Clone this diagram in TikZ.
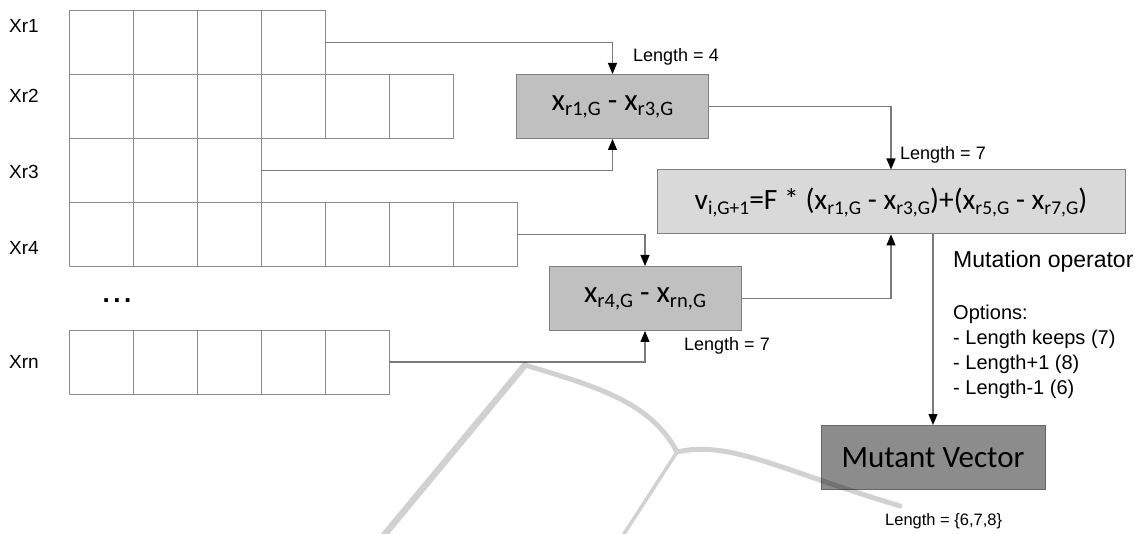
\documentclass[tikz,border=0pt]{standalone}
\usepackage{fontspec}
\setmainfont{Liberation Sans}
\newfontfamily\calfont{Carlito}
\usetikzlibrary{arrows.meta,calc}
\definecolor{gridc}{HTML}{8A8A8A}
\definecolor{linec}{HTML}{7A7A7A}
\definecolor{boxa}{HTML}{C0C0C0}
\definecolor{boxf}{HTML}{D9D9D9}
\definecolor{boxm}{HTML}{8C8C8C}
\definecolor{edgec}{HTML}{7F7F7F}
\newcommand\sbx[1]{\raisebox{-5pt}{\fontsize{20.5}{20.5}\selectfont #1}}
\newcommand\sbf[1]{\raisebox{-5pt}{\fontsize{19.5}{19.5}\selectfont #1}}
\tikzset{
  rowbox/.style={draw=gridc, line width=0.9pt, minimum height=64pt, inner sep=0pt, outer sep=0pt, anchor=north west},
  gridl/.style={draw=gridc, line width=0.9pt},
  conn/.style={draw=linec, line width=1.1pt, -{Triangle[length=11pt,width=9pt,color=black]}},
  diffbox/.style={draw=edgec, line width=1pt, fill=boxa, minimum width=192pt, minimum height=64pt, inner sep=0pt, font=\calfont\fontsize{31}{31}\selectfont},
  formbox/.style={draw=edgec, line width=1pt, fill=boxf, minimum width=468pt, minimum height=64pt, inner sep=0pt, font=\calfont\fontsize{29.5}{29.5}\selectfont},
  mutbox/.style={draw=edgec!80!black, line width=1pt, fill=boxm, minimum width=224pt, minimum height=64pt, inner sep=0pt, font=\calfont\fontsize{31}{31}\selectfont},
  xlab/.style={anchor=west, inner sep=0pt, font=\fontsize{19}{19}\selectfont},
  lenlab/.style={anchor=west, inner sep=0pt, font=\fontsize{18}{18}\selectfont},
  wm/.style={draw=black, line cap=round, line join=round},
}
\begin{document}
\begin{tikzpicture}[x=1pt,y=-1pt]
\useasboundingbox (0,0) rectangle (1135,534);
% vector rows
\node[rowbox, minimum width=256pt] (r1) at (69,10.5) {};
\node[rowbox, minimum width=384pt] (r2) at (69,74.5) {};
\node[rowbox, minimum width=192pt] (r3) at (69,138.5) {};
\node[rowbox, minimum width=448pt] (r4) at (69,202.5) {};
\node[rowbox, minimum width=320pt] (rn) at (69,330) {};
\foreach \i in {1,2,3} {\draw[gridl] (r1.north west) ++(64*\i,0) -- ++(0,64);}
\foreach \i in {1,...,5} {\draw[gridl] (r2.north west) ++(64*\i,0) -- ++(0,64);}
\foreach \i in {1,2} {\draw[gridl] (r3.north west) ++(64*\i,0) -- ++(0,64);}
\foreach \i in {1,...,6} {\draw[gridl] (r4.north west) ++(64*\i,0) -- ++(0,64);}
\foreach \i in {1,...,4} {\draw[gridl] (rn.north west) ++(64*\i,0) -- ++(0,64);}
% row labels
\node[xlab] (l1) at (9,25.7) {Xr1};
\node[xlab] (l2) at (9,96) {Xr2};
\node[xlab] (l3) at (9,172) {Xr3};
\node[xlab] (l4) at (9,248) {Xr4};
\node[xlab] (ln) at (9,362) {Xrn};
\node[inner sep=0pt, font=\bfseries\fontsize{26}{26}\selectfont] (dots) at (117,301) {.\kern3.5pt.\kern3.5pt.};
% boxes
\node[diffbox] (b1) at (612.5,106.5) {x\sbx{r1,G} - x\sbx{r3,G}};
\node[diffbox] (b2) at (645,298.5) {x\sbx{r4,G} - x\sbx{rn,G}};
\node[formbox] (f) at (891,202) {v\sbf{i,G+1}=F * (x\sbf{r1,G} - x\sbf{r3,G})+(x\sbf{r5,G} - x\sbf{r7,G})};
\node[mutbox] (m) at (933,457.5) {Mutant Vector};
% connectors
\draw[conn] (r1.east) -| (b1.north);
\draw[conn] (r3.east) -| (b1.south);
\draw[conn] (r4.east) -| (b2.north);
\draw[conn] (rn.east) -| (b2.south);
\draw[conn] (b1.east) -| (f.north);
\draw[conn] (b2.east) -| (f.south);
\draw[conn] (f.south -| m.north) -- (m.north);
% labels
\node[lenlab] (len4) at (633,57) {Length = 4};
\node[lenlab] (len7a) at (900,155) {Length = 7};
\node[lenlab] (len7b) at (684,346) {Length = 7};
\node[lenlab, font=\fontsize{16.5}{16.5}\selectfont] (len678) at (885,521) {Length = \{6,7,8\}};
\node[anchor=west, inner sep=0pt, font=\fontsize{23}{23}\selectfont] (mutop) at (953,262) {Mutation operator};
\node[anchor=north west, inner sep=0pt, align=left, font=\fontsize{20}{24.8}\selectfont] (opts) at (953,305) {Options:\\- Length keeps (7)\\- Length+1 (8)\\- Length-1 (6)};
% watermark
\begin{scope}[transparency group, opacity=0.18]
\draw[wm, line width=6.5pt] (380,540) -- (525,365);
\draw[wm, line width=5pt] (525,365) .. controls (590,385) and (650,400) .. (677,452);
\draw[wm, line width=5pt] (677,452) .. controls (730,440) and (780,470) .. (900,506);
\draw[wm, line width=3.5pt] (677,452) -- (620,540);
\end{scope}
\end{tikzpicture}
\end{document}
